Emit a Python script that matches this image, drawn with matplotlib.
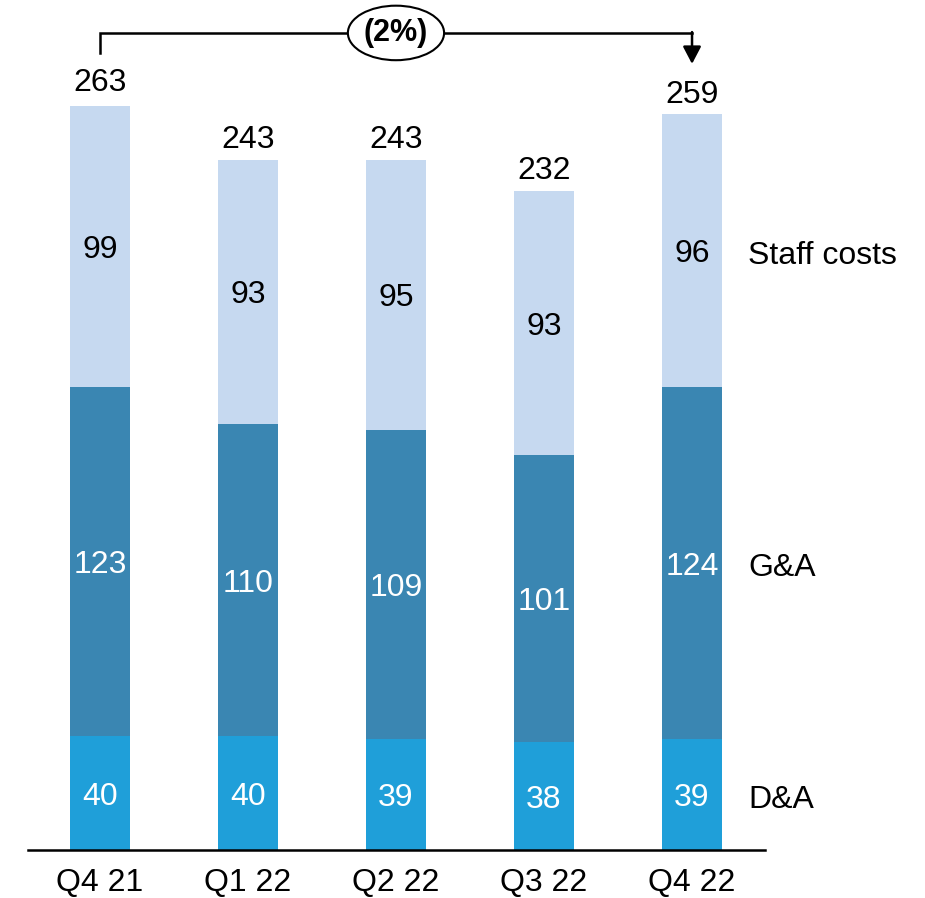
import matplotlib
matplotlib.use("Agg")
import matplotlib.pyplot as plt
from matplotlib.patches import Ellipse

plt.rcParams['font.family'] = ['Liberation Sans', 'DejaVu Sans']

quarters = ["Q4 21", "Q1 22", "Q2 22", "Q3 22", "Q4 22"]
da = [40, 40, 39, 38, 39]
ga = [123, 110, 109, 101, 124]
staff = [99, 93, 95, 93, 96]
totals = [263, 243, 243, 232, 259]
series_names = ["D&A", "G&A", "Staff costs"]
change_label = "(2%)"

colors = ["#1F9FD9", "#3A86B2", "#C6D9F0"]
text_colors = ["white", "white", "black"]
FS = 23

W, H, DPI = 925, 898, 100
fig = plt.figure(figsize=(W / DPI, H / DPI), dpi=DPI)
ax = fig.add_axes([28 / W, 48 / H, (765 - 28) / W, 850 / H])

x = list(range(len(quarters)))
width = 0.405
bottom = [0] * len(quarters)
for vals, col, tcol in zip([da, ga, staff], colors, text_colors):
    ax.bar(x, vals, width, bottom=bottom, color=col, edgecolor="none")
    for xi, v, b in zip(x, vals, bottom):
        ax.annotate(str(v), (xi, b + v / 2), xytext=(0, -2.5),
                    textcoords="offset points", ha="center", va="center",
                    fontsize=FS, color=tcol)
    bottom = [b + v for b, v in zip(bottom, vals)]

for xi, t in zip(x, totals):
    ax.annotate(str(t), (xi, t), xytext=(0, 3.5), textcoords="offset points",
                ha="center", va="bottom", fontsize=FS, color="black")

# series names beside the last bar
last = len(quarters) - 1
lx = last + 0.378
segs = [da[last], ga[last], staff[last]]
base = 0
for name, v in zip(series_names, segs):
    ax.annotate(name, (lx, base + v / 2), xytext=(0, -3.6),
                textcoords="offset points", ha="left", va="center",
                fontsize=FS, color="black", annotation_clip=False)
    base += v

ax.set_xlim(-0.486, 4.493)
ax.set_ylim(0, 299.3)
ax.set_xticks(x)
ax.set_xticklabels(quarters, fontsize=FS)
ax.tick_params(axis="x", length=0, pad=13)
ax.set_yticks([])
for s in ["top", "right", "left"]:
    ax.spines[s].set_visible(False)
ax.spines["bottom"].set_linewidth(1.8)
ax.spines["bottom"].set_color("black")

# change bracket from first to last quarter
y_br = 287.7
ax.plot([0, 0, last], [280.6, y_br, y_br], color="black", lw=1.8,
        clip_on=False, solid_joinstyle="miter")
ax.annotate("", xy=(last, 276.8), xytext=(last, y_br + 0.3),
            arrowprops=dict(arrowstyle="-|>,head_length=1.05,head_width=0.55",
                            color="black", lw=1.8, shrinkA=0, shrinkB=0),
            annotation_clip=False)
ell = Ellipse((2, y_br), 0.65, 19.2, facecolor="white", edgecolor="black",
              lw=1.5, clip_on=False, zorder=5)
ax.add_patch(ell)
ax.text(2, y_br, change_label, ha="center", va="center", fontsize=22,
        fontweight="bold", zorder=6, clip_on=False)

fig.savefig("out.png", dpi=DPI)
